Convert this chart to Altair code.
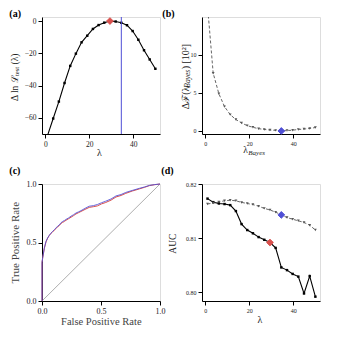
import altair as alt
import pandas as pd

# ---------------- data ----------------
lam = [1.0, 3.58, 6.16, 8.74, 11.32, 13.89, 16.47, 19.05, 21.63, 24.21,
       26.79, 29.37, 31.95, 34.53, 37.11, 39.68, 42.26, 44.84, 47.42, 50.0]
dlogL = [-71.0, -60.4, -49.9, -38.4, -27.8, -20.2, -13.2, -9.1, -4.9, -2.5,
         -1.0, 0.0, -0.3, -1.1, -2.6, -6.2, -11.6, -18.1, -23.8, -29.6]
dF = [16.5, 7.6, 4.9, 3.2, 2.15, 1.5, 1.05, 0.7, 0.48, 0.3,
      0.2, 0.12, 0.08, 0.0, 0.05, 0.1, 0.2, 0.25, 0.33, 0.45]
auc_test = [0.8173, 0.81665, 0.8164, 0.8163, 0.8161, 0.8150, 0.8126, 0.8115, 0.8109, 0.8102,
            0.8097, 0.8092, 0.8082, 0.8046, 0.8041, 0.8034, 0.8029, 0.7998, 0.8030, 0.7992]
auc_bayes = [0.8163, 0.8165, 0.8167, 0.8169, 0.8170, 0.8169, 0.8166, 0.8164, 0.8162, 0.8159,
             0.8155, 0.8152, 0.8148, 0.8143, 0.8138, 0.8135, 0.8132, 0.8129, 0.8124, 0.8115]
lam_test_best = 29.37
lam_bayes_best = 34.53

roc_fpr = [0.0, 0.0, 0.006, 0.02, 0.034, 0.048, 0.062, 0.076, 0.09, 0.105, 0.119, 0.133,
           0.147, 0.16, 0.175, 0.19, 0.203, 0.225, 0.246, 0.268, 0.288, 0.31, 0.33, 0.365,
           0.40, 0.435, 0.47, 0.505, 0.54, 0.585, 0.627, 0.67, 0.71, 0.765, 0.825, 0.87,
           0.91, 0.955, 1.0]
roc_tpr_blue = [0.0, 0.33, 0.37, 0.455, 0.51, 0.54, 0.562, 0.58, 0.595, 0.61, 0.625, 0.64,
                0.65, 0.668, 0.68, 0.688, 0.697, 0.71, 0.725, 0.738, 0.752, 0.762, 0.772, 0.792,
                0.81, 0.815, 0.825, 0.84, 0.853, 0.872, 0.898, 0.91, 0.928, 0.945, 0.963, 0.975,
                0.988, 0.995, 1.0]
roc_tpr_red = [0.0, 0.33, 0.37, 0.45, 0.505, 0.537, 0.56, 0.578, 0.59, 0.605, 0.62, 0.635,
               0.645, 0.662, 0.672, 0.68, 0.69, 0.703, 0.716, 0.73, 0.744, 0.755, 0.765, 0.783,
               0.80, 0.806, 0.813, 0.83, 0.842, 0.862, 0.889, 0.902, 0.92, 0.94, 0.958, 0.972,
               0.986, 0.994, 1.0]
diag = [0.0, 1.0]

FONT = "Liberation Serif"
RED = "#d9504d"
BLUE = "#4f4fd6"
W, H = 118, 117

df_curve = pd.DataFrame({"lam": lam, "dlogL": dlogL, "dF": dF,
                         "auc_test": auc_test, "auc_bayes": auc_bayes})
df_roc = pd.DataFrame({"i": list(range(len(roc_fpr))), "fpr": roc_fpr,
                       "blue": roc_tpr_blue, "red": roc_tpr_red})
df_diag = pd.DataFrame({"x": diag, "y": diag})


def ax(values, fmt, size):
    return alt.Axis(values=values, format=fmt, title=None, grid=False,
                    domainColor="black", domainWidth=1, tickColor="black",
                    tickSize=4, tickWidth=1, labelFont=FONT, labelFontSize=size,
                    labelColor="#222", labelPadding=2, labelFlush=False,
                    labelOverlap=False)


def txt(t, x, y, size=9, angle=0, align="center", weight="normal", style="normal",
        color="#222"):
    return alt.Chart(alt.Data(values=[{"t": t}])).mark_text(
        font=FONT, fontSize=size, angle=angle, align=align, baseline="middle",
        fontWeight=weight, fontStyle=style, color=color
    ).encode(text="t:N", x=alt.value(x), y=alt.value(y))


lam_scale = alt.Scale(domain=[-1.5, 52.1], nice=False, zero=False)

# ---------------- (a) ----------------
xa = alt.X("lam:Q", scale=lam_scale, axis=ax([0, 20, 40], "d", 7.5))
ya = alt.Y("dlogL:Q", scale=alt.Scale(domain=[-70, 2.5], nice=False, zero=False),
           axis=ax([0, -20, -40, -60], "d", 7.5))
base_a = alt.Chart(df_curve).encode(x=xa, y=ya)
a_line = base_a.mark_line(color="black", strokeWidth=1.1, clip=True)
a_pts = base_a.mark_point(shape="square", filled=True, size=6, color="black",
                          opacity=1, clip=True)
a_rule = alt.Chart(pd.DataFrame({"lam": [lam_bayes_best]})).mark_rule(
    color=BLUE, strokeWidth=1).encode(x=alt.X("lam:Q", scale=lam_scale))
a_best = alt.Chart(pd.DataFrame({"lam": [lam_test_best], "dlogL": [0.0]})).mark_point(
    shape="diamond", filled=True, size=45, color=RED, opacity=1, strokeWidth=1,
    stroke=RED).encode(x=xa, y=ya)
panel_a = alt.layer(
    a_line, a_pts, a_rule, a_best,
    txt("(a)", -32.7, -3.5, 10, align="left", weight="bold", color="black"),
    txt("Δ ln ℒ", -27.5, 84, 9.5, angle=270, align="left"),
    txt("test", -25.0, 59, 6.5, angle=270, align="left"),
    txt("(λ)", -27.5, 47.5, 9.5, angle=270, align="left"),
    txt("λ", 57.3, 135.7, 10),
).properties(width=W, height=H)

# ---------------- (b) ----------------
xb = alt.X("lam:Q", scale=lam_scale, axis=ax([0, 20, 40], "d", 6))
yb = alt.Y("dF:Q", scale=alt.Scale(domain=[-0.4, 15.0], nice=False, zero=False),
           axis=ax([0, 5, 10], "d", 6))
base_b = alt.Chart(df_curve).encode(x=xb, y=yb)
b_line = base_b.mark_line(color="#666", strokeWidth=1, strokeDash=[3, 2], clip=True)
b_pts = base_b.mark_point(shape="triangle-down", filled=True, size=8, color="#555",
                          opacity=1, clip=True)
b_best = alt.Chart(pd.DataFrame({"lam": [lam_bayes_best], "dF": [0.0]})).mark_point(
    shape="diamond", filled=True, size=45, color=BLUE, opacity=1, strokeWidth=1,
    stroke=BLUE).encode(x=xb, y=yb)
panel_b = alt.layer(
    b_line, b_pts, b_best,
    txt("(b)", -39.7, -3.5, 10, align="left", weight="bold", color="black"),
    txt("Δℱ(λ", -16.5, 92.2, 10, angle=270, align="left"),
    txt("Bayes", -14.0, 70.7, 7.5, angle=270, align="left", style="italic"),
    txt(") [10²]", -16.5, 52.3, 10, angle=270, align="left"),
    txt("λ", 41.3, 133, 9.5, align="left"),
    txt("Bayes", 46.3, 135.5, 7, align="left", style="italic"),
).properties(width=W, height=H)

# ---------------- (c) ----------------
unit = alt.Scale(domain=[0, 1], nice=False, zero=False)
xc = alt.X("fpr:Q", scale=unit, axis=ax([0, 0.5, 1.0], ".1f", 8))
c_diag = alt.Chart(df_diag).mark_line(color="#999", strokeWidth=0.8).encode(
    x=alt.X("x:Q", scale=unit, axis=ax([0, 0.5, 1.0], ".1f", 8)),
    y=alt.Y("y:Q", scale=unit, axis=ax([0, 0.5, 1.0], ".1f", 8)))
c_red = alt.Chart(df_roc).mark_line(color=RED, strokeWidth=1).encode(
    x=xc, y=alt.Y("red:Q", scale=unit), order="i:Q")
c_blue = alt.Chart(df_roc).mark_line(color=BLUE, strokeWidth=1, opacity=0.85).encode(
    x=xc, y=alt.Y("blue:Q", scale=unit), order="i:Q")
panel_c = alt.layer(
    c_diag, c_red, c_blue,
    txt("(c)", -32.7, -13.3, 10, align="left", weight="bold", color="black"),
    txt("True Positive Rate", -26.0, 58.7, 11, angle=270, color="#444"),
    txt("False Positive Rate", 59.3, 138, 10.5, color="#444"),
).properties(width=W, height=H)

# ---------------- (d) ----------------
xd = alt.X("lam:Q", scale=lam_scale, axis=ax([0, 20, 40], "d", 6))
auc_scale = alt.Scale(domain=[0.7984, 0.8200], nice=False, zero=False)
yd1 = alt.Y("auc_test:Q", scale=auc_scale, axis=ax([0.80, 0.81, 0.82], ".2f", 6))
yd2 = alt.Y("auc_bayes:Q", scale=auc_scale)
d_line2 = alt.Chart(df_curve).mark_line(color="#666", strokeWidth=1, strokeDash=[3, 2]).encode(x=xd, y=yd2)
d_pts2 = alt.Chart(df_curve).mark_point(shape="triangle-down", filled=True, size=8,
                                        color="#555", opacity=1).encode(x=xd, y=yd2)
d_line1 = alt.Chart(df_curve).mark_line(color="black", strokeWidth=1.1).encode(x=xd, y=yd1)
d_pts1 = alt.Chart(df_curve).mark_point(shape="square", filled=True, size=6,
                                        color="black", opacity=1).encode(x=xd, y=yd1)
d_red = alt.Chart(pd.DataFrame({"lam": [lam_test_best], "auc_test": [auc_test[11]]})).mark_point(
    shape="diamond", filled=True, size=45, color=RED, opacity=1, strokeWidth=1,
    stroke=RED).encode(x=xd, y=yd1)
d_blue = alt.Chart(pd.DataFrame({"lam": [lam_bayes_best], "auc_bayes": [auc_bayes[13]]})).mark_point(
    shape="diamond", filled=True, size=45, color=BLUE, opacity=1, strokeWidth=1,
    stroke=BLUE).encode(x=xd, y=yd2)
panel_d = alt.layer(
    d_line1, d_line2, d_pts1, d_pts2, d_red, d_blue,
    txt("(d)", -40.7, -13.3, 10, align="left", weight="bold", color="black"),
    txt("AUC", -29.2, 59.7, 9.5, angle=270),
    txt("λ", 58, 135.7, 10),
).properties(width=W, height=H)

chart = alt.concat(
    panel_a, panel_b, panel_c, panel_d, columns=2, bounds="flush",
    spacing={"row": 50, "column": 42}
).properties(
    padding={"left": 0, "top": 0, "right": 4, "bottom": 4}
).configure_view(
    stroke="black", strokeWidth=1
).configure(background="white")

chart.save("out.html", embed_options={"renderer": "svg", "actions": False})
